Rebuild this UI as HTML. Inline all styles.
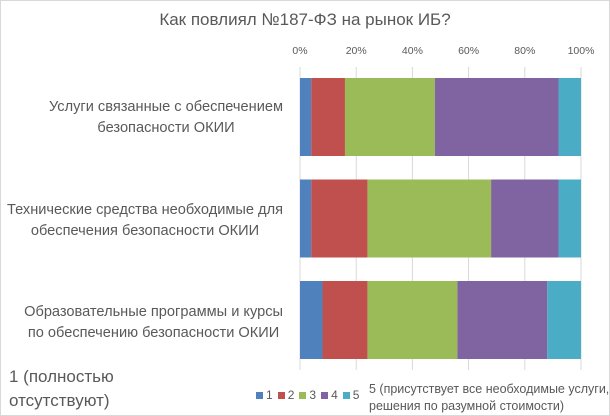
<!DOCTYPE html>
<html><head><meta charset="utf-8"><style>
body{margin:0;background:#fff;}
#wrap{position:relative;width:608px;height:414px;border:1px solid #d9d9d9;overflow:hidden;font-family:"Liberation Sans","DejaVu Sans",sans-serif;color:#595959;}
.t{position:absolute;white-space:nowrap;}
</style></head><body>
<div id="wrap">
<div class="t" style="left:0;width:608px;text-align:center;top:9px;font-size:17px;">Как повлиял №187-ФЗ на рынок ИБ?</div>
<svg id="chart" width="610" height="416" style="position:absolute;left:-1px;top:-1px"></svg>
<div class="t" style="right:326px;top:96px;text-align:center;font-size:14.6px;line-height:21px;">Услуги связанные с обеспечением<br>безопасности ОКИИ</div>
<div class="t" style="right:326px;top:199px;text-align:center;font-size:14.6px;line-height:21px;">Технические средства необходимые для<br>обеспечения безопасности ОКИИ</div>
<div class="t" style="right:326px;top:301px;text-align:center;font-size:14.6px;line-height:21px;">Образовательные программы и курсы<br>по обеспечению безопасности ОКИИ</div>
<div class="t" style="left:8px;top:364px;font-size:17px;line-height:24px;">1 (полностью<br>отсутствуют)</div>
<div class="t" style="left:368px;top:380px;font-size:12.5px;line-height:17px;">5 (присутствует все необходимые услуги,<br>решения по разумной стоимости)</div>
<div id="legend" class="t" style="left:255px;top:387px;font-size:12px;"></div>
</div>
<script>
const categories=["Услуги","Технические средства","Образовательные программы"];
const s1=[4,4,8];
const s2=[12,20,16];
const s3=[32,44,32];
const s4=[44,24,32];
const s5=[8,8,12];
const ticks=[0,20,40,60,80,100];
const seriesNames=["1","2","3","4","5"];
const colors=["#4f81bd","#c0504d","#9bbb59","#8064a2","#4bacc6"];
const series=[s1,s2,s3,s4,s5];
const x0=300,x1=581,y0=67,y1=370,barTop=78,step=101.5,barH=78;
const X=v=>x0+(x1-x0)*v/100;
const Y=i=>barTop+i*step;
const svg=document.getElementById('chart');
const NS="http://www.w3.org/2000/svg";
ticks.forEach(t=>{
 const l=document.createElementNS(NS,'line');
 l.setAttribute('x1',X(t));l.setAttribute('x2',X(t));l.setAttribute('y1',y0);l.setAttribute('y2',y1);
 l.setAttribute('stroke','#d9d9d9');
 
 
 svg.appendChild(l);
 const tx=document.createElementNS(NS,'text');
 tx.setAttribute('x',X(t));tx.setAttribute('y',54);tx.setAttribute('text-anchor','middle');
 tx.setAttribute('font-size','10.5');tx.setAttribute('fill','#595959');tx.setAttribute('font-family','Liberation Sans, sans-serif');
 tx.textContent=t+'%';
 
 
 svg.appendChild(tx);
});
categories.forEach((c,i)=>{
 let acc=0;
 series.forEach((s,k)=>{
  const r=document.createElementNS(NS,'rect');
  r.setAttribute('x',X(acc));r.setAttribute('width',X(acc+s[i])-X(acc));
  r.setAttribute('y',Y(i));r.setAttribute('height',barH);r.setAttribute('fill',colors[k]);
  
  
  svg.appendChild(r);
  acc+=s[i];
 });
});
const lg=document.getElementById('legend');
seriesNames.forEach((n,k)=>{
 const sp=document.createElement('span');
 
 
 sp.style.marginRight='5px';
 sp.innerHTML='<span style="display:inline-block;width:7px;height:7px;background:'+colors[k]+';margin-right:3px"></span>'+n;
 lg.appendChild(sp);
});
</script>
</body></html>
